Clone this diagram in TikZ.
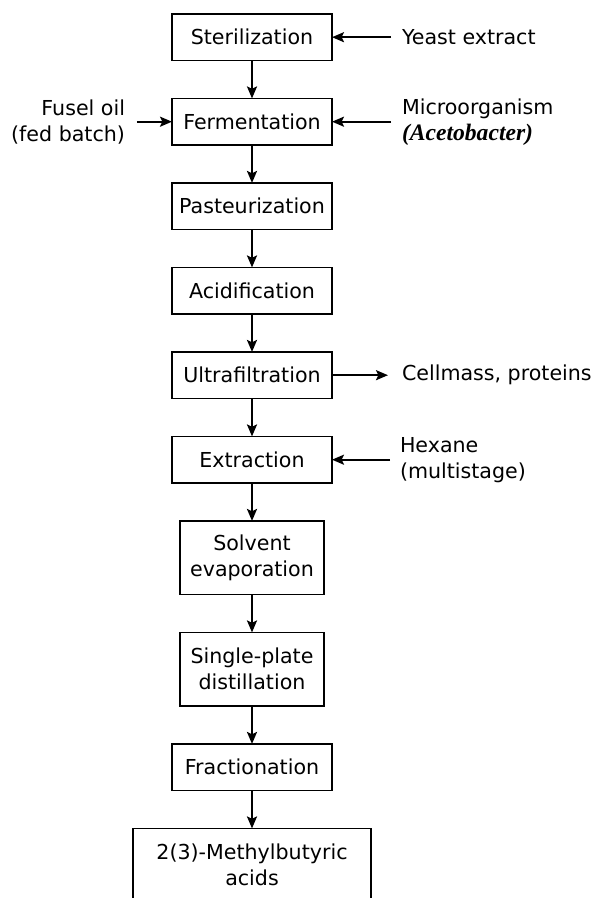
\documentclass[tikz,border=0pt]{standalone}
\usepackage{fontspec}
\setmainfont{DejaVu Sans}
\newfontfamily\orgfont{Liberation Serif}
\usetikzlibrary{
  arrows.meta,
  positioning
}

\begin{document}
\begin{tikzpicture}[
    node distance=19pt and 29.5pt,
    procbox/.style={
      rectangle, draw=black, line width=0.6pt, outer sep=0pt,
      minimum width=80pt, minimum height=23.25pt,
      align=center, font=\fontsize{10.3}{13}\selectfont, inner sep=2pt
    },
    tallbox/.style={
      procbox, minimum width=72pt, minimum height=36.75pt
    },
    feedlabel/.style={
      align=left, font=\fontsize{10.3}{13}\selectfont,
      inner xsep=5.5pt, inner ysep=0pt, outer sep=0pt
    },
    myarrow/.style={
      -{Stealth[length=6pt,width=5pt,inset=1.2pt]},
      line width=1pt, draw=black
    }
  ]
    \useasboundingbox (-126pt,18.6pt) rectangle (172pt,-430.4pt);

    % Process steps
    \node[procbox] (steril) at (0,0) {Sterilization};
    \node[procbox, below=of steril] (ferm) {Fermentation};
    \node[procbox, below=of ferm] (pasteur) {Pasteurization};
    \node[procbox, below=of pasteur] (acid) {Acidification};
    \node[procbox, below=of acid] (ultra) {Ultrafiltration};
    \node[procbox, below=of ultra] (extract) {Extraction};
    \node[tallbox, below=of extract] (solvent) {Solvent\\evaporation};
    \node[tallbox, below=of solvent] (plate) {Single-plate\\distillation};
    \node[procbox, below=of plate] (fract) {Fractionation};
    \node[tallbox, minimum width=119pt, below=of fract] (acids) {2(3)-Methylbutyric\\acids};

    % Feeds and outputs
    \node[feedlabel, right=of steril] (yeast) {Yeast extract};
    \node[feedlabel, right=of ferm] (micro) {Microorganism\\{\orgfont\bfseries\itshape\fontsize{11.8}{13}\selectfont (Acetobacter)}};
    \node[feedlabel, align=right, inner xsep=6pt, left=17.5pt of ferm] (fusel) {Fusel oil\\(fed batch)};
    \node[feedlabel, inner xsep=7pt, right=28pt of ultra] (cells) {Cellmass, proteins};
    \node[feedlabel, inner xsep=5pt, right=29pt of extract] (hexane) {Hexane\\(multistage)};

    % Arrows down the main line
    \foreach \a/\b in {steril/ferm, ferm/pasteur, pasteur/acid, acid/ultra, ultra/extract,
                       extract/solvent, solvent/plate, plate/fract, fract/acids}
      \draw[myarrow] (\a.south) -- (\b.north);

    % Side arrows
    \draw[myarrow] (yeast.west) -- (steril.east);
    \draw[myarrow] (micro.west) -- (ferm.east);
    \draw[myarrow] (fusel.east) -- (ferm.west);
    \draw[myarrow] (ultra.east) -- (cells.west);
    \draw[myarrow] (hexane.west) -- (extract.east);

  \end{tikzpicture}
\end{document}
